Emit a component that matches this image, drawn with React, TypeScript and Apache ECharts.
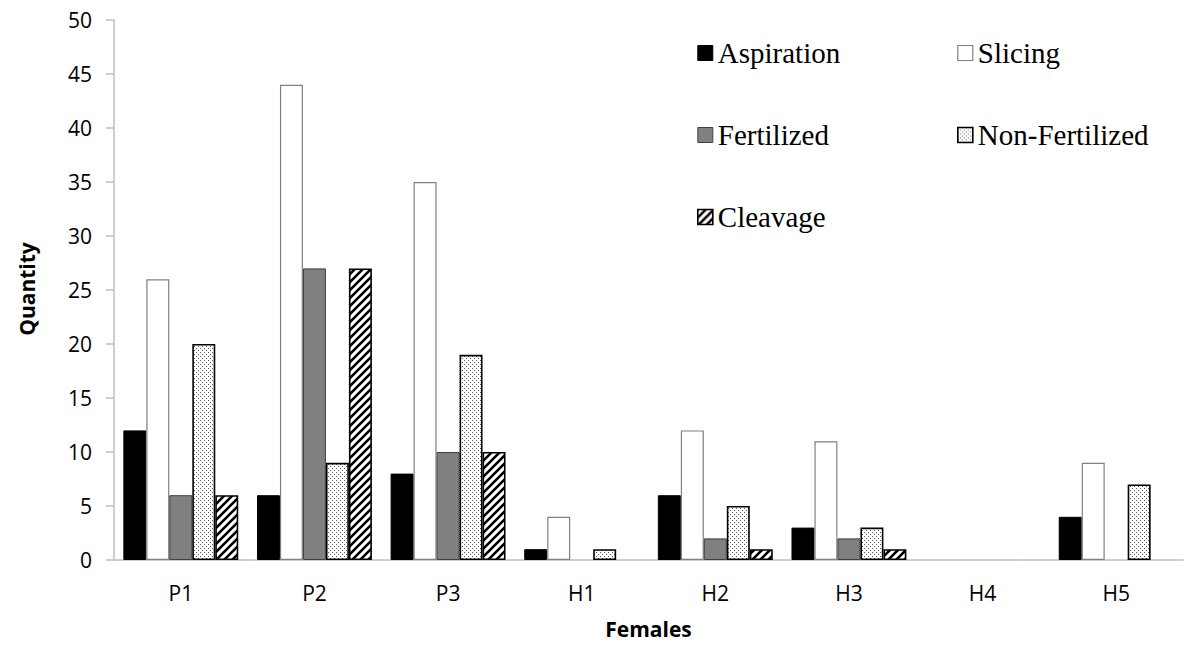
import React, { useEffect, useRef } from "react";
import * as echarts from "echarts";

const categories = ["P1", "P2", "P3", "H1", "H2", "H3", "H4", "H5"];
const aspiration = [12, 6, 8, 1, 6, 3, 0, 4];
const slicing = [26, 44, 35, 4, 12, 11, 0, 9];
const fertilized = [6, 27, 10, 0, 2, 2, 0, 0];
const nonFertilized = [20, 9, 19, 1, 5, 3, 0, 7];
const cleavage = [6, 27, 10, 0, 1, 1, 0, 0];
const yTicks = { min: 0, max: 50, interval: 5 };

function makeStipple(): HTMLCanvasElement {
  const c = document.createElement("canvas");
  c.width = 4;
  c.height = 4;
  const ctx = c.getContext("2d")!;
  ctx.fillStyle = "#ffffff";
  ctx.fillRect(0, 0, 4, 4);
  ctx.fillStyle = "#555555";
  ctx.fillRect(0, 0, 1, 1);
  ctx.fillRect(2, 2, 1, 1);
  return c;
}

function makeStripes(): HTMLCanvasElement {
  const s = 8;
  const c = document.createElement("canvas");
  c.width = s;
  c.height = s;
  const ctx = c.getContext("2d")!;
  ctx.fillStyle = "#ffffff";
  ctx.fillRect(0, 0, s, s);
  ctx.strokeStyle = "#000000";
  ctx.lineWidth = 2.6;
  ctx.beginPath();
  ctx.moveTo(-s, s * 2);
  ctx.lineTo(s * 2, -s);
  ctx.moveTo(-s, s);
  ctx.lineTo(s, -s);
  ctx.moveTo(0, s * 2);
  ctx.lineTo(s * 2, 0);
  ctx.stroke();
  return c;
}

export default function App() {
  const ref = useRef<HTMLDivElement>(null);

  useEffect(() => {
    if (!ref.current) return;
    document.body.style.margin = "0";
    const chart = echarts.init(ref.current, undefined, { renderer: "svg" });
    const stipple = { image: makeStipple(), repeat: "repeat", imageWidth: 4, imageHeight: 4 } as any;
    const stripes = { image: makeStripes(), repeat: "repeat", imageWidth: 8, imageHeight: 8 } as any;

    const styles: Record<string, any> = {
      Aspiration: { color: "#000000", borderColor: "#000000", borderWidth: 1 },
      Slicing: { color: "#ffffff", borderColor: "#808080", borderWidth: 1.2 },
      Fertilized: { color: "#808080", borderColor: "#404040", borderWidth: 1 },
      "Non-Fertilized": { color: stipple, borderColor: "#000000", borderWidth: 1.6 },
      Cleavage: { color: stripes, borderColor: "#000000", borderWidth: 1.6 },
    };
    const seriesData: [string, number[]][] = [
      ["Aspiration", aspiration],
      ["Slicing", slicing],
      ["Fertilized", fertilized],
      ["Non-Fertilized", nonFertilized],
      ["Cleavage", cleavage],
    ];

    const legendCommon = {
      orient: "vertical",
      itemWidth: 15,
      itemHeight: 15,
      itemGap: 52,
      padding: 0,
      icon: "rect",
      selectedMode: false,
      textStyle: {
        fontFamily: "Liberation Serif",
        fontSize: 29,
        color: "#000000",
        lineHeight: 30,
      },
    };
    const legendItem = (n: string) => ({ name: n, itemStyle: styles[n] });

    chart.setOption({
      animation: false,
      backgroundColor: "#ffffff",
      grid: { left: 114, right: 17, top: 20, bottom: 102, containLabel: false },
      legend: [
        {
          ...legendCommon,
          left: 697,
          top: 38,
          data: ["Aspiration", "Fertilized", "Cleavage"].map(legendItem),
        },
        {
          ...legendCommon,
          left: 957,
          top: 38,
          data: ["Slicing", "Non-Fertilized"].map(legendItem),
        },
      ],
      xAxis: {
        type: "category",
        data: categories,
        name: "Females",
        nameLocation: "middle",
        nameGap: 58,
        nameTextStyle: {
          fontFamily: "Open Sans",
          fontWeight: "bold",
          fontSize: 21,
          color: "#000000",
        },
        axisLine: { lineStyle: { color: "#bfbfbf", width: 1.5 } },
        axisTick: { show: false },
        axisLabel: {
          fontFamily: "Open Sans",
          fontSize: 21,
          color: "#000000",
          margin: 22,
        },
        splitLine: { show: false },
      },
      yAxis: {
        type: "value",
        min: yTicks.min,
        max: yTicks.max,
        interval: yTicks.interval,
        axisLine: { show: true, lineStyle: { color: "#bfbfbf", width: 1.5 } },
        axisTick: { show: true, inside: false, length: 8, lineStyle: { color: "#bfbfbf", width: 1.5 } },
        axisLabel: {
          fontFamily: "Open Sans",
          fontSize: 21,
          color: "#000000",
          margin: 22,
        },
        splitLine: { show: false },
      },
      graphic: [
        {
          type: "text",
          x: 27,
          y: 289,
          rotation: Math.PI / 2,
          style: {
            text: "Quantity",
            fontFamily: "Open Sans",
            fontWeight: "bold",
            fontSize: 21,
            fill: "#000000",
            textAlign: "center",
            textVerticalAlign: "middle",
          },
        },
      ],
      series: seriesData.map(([name, values]) => ({
        name,
        type: "bar",
        data: values.map((v) => (v === 0 ? null : v)),
        barGap: "0%",
        barCategoryGap: "14%",
        itemStyle: styles[name],
        emphasis: { disabled: true },
      })),
    });

    return () => chart.dispose();
  }, []);

  return <div ref={ref} style={{ width: 1200, height: 662 }} />;
}
